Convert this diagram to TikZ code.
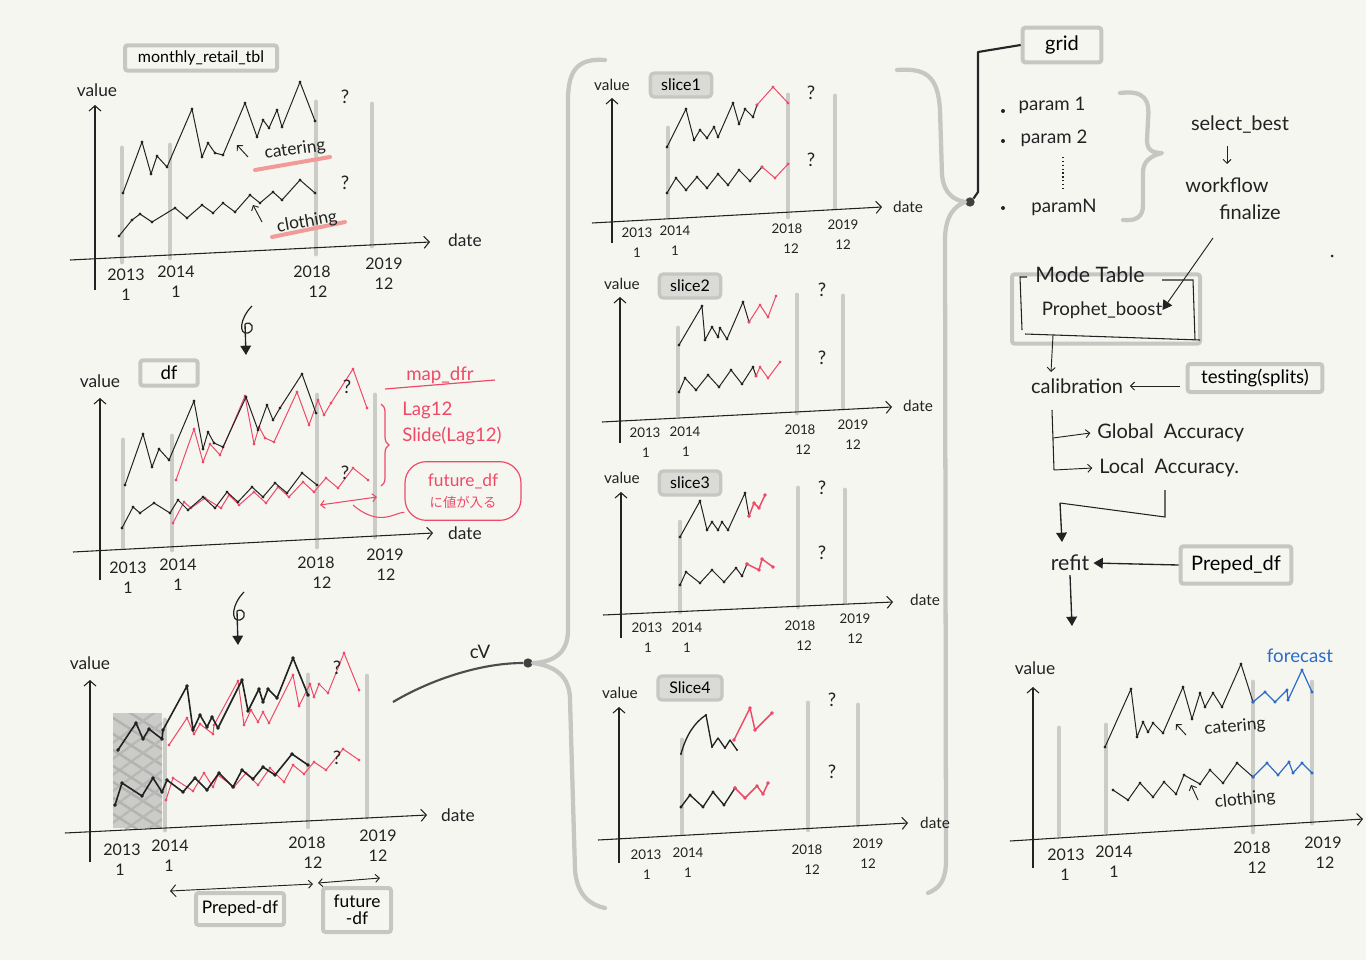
\documentclass[tikz,border=0pt]{standalone}
\usepackage{fontspec}
\setmainfont{Lato}
\newfontfamily\jpfont{Noto Sans CJK JP}
\usetikzlibrary{arrows.meta,decorations.pathreplacing}
\definecolor{bgc}{HTML}{F6F6F1}
\definecolor{gbarc}{HTML}{CBCBC7}
\definecolor{boxc}{HTML}{C6C6C2}
\definecolor{boxfill}{HTML}{DADAD6}
\definecolor{redc}{HTML}{EE4A68}
\definecolor{salmon}{HTML}{F29A98}
\definecolor{bluec}{HTML}{2C6CC9}
\definecolor{inkc}{HTML}{222222}
\tikzset{
  axis/.style={line width=0.8pt, inkc, -{Straight Barb[length=4pt,width=9pt]}},
  gbar/.style={line width=3.6pt, gbarc, line cap=round},
  ser/.style={line width=0.75pt, inkc, line join=round},
  serb/.style={line width=1.2pt, inkc, line join=round},
  rser/.style={line width=0.75pt, redc, line join=round},
  bser/.style={line width=0.9pt, bluec, line join=round},
  lab/.style={font=\fontsize{13}{15}\selectfont, inner sep=0pt, inkc},
  slab/.style={font=\fontsize{11.5}{13}\selectfont, inner sep=0pt, inkc},
  yrl/.style={font=\fontsize{12}{14}\selectfont, inner sep=0pt, inkc},
  yrs/.style={font=\fontsize{10}{12}\selectfont, inner sep=0pt, inkc},
  rlab/.style={font=\fontsize{15}{17}\selectfont, inner sep=0pt, inkc},
  redlab/.style={font=\fontsize{14}{16}\selectfont, inner sep=0pt, redc},
  graybox/.style={draw=boxc, line width=3pt, rounded corners=2pt, inner sep=0pt},
  slicebox/.style={draw=boxc, fill=boxfill, line width=2.5pt, rounded corners=3pt, inner sep=0pt, minimum height=18pt},
  thinarrow/.style={line width=0.7pt, inkc, -{Straight Barb[length=3pt,width=6pt]}},
  fillarrow/.style={line width=1pt, inkc, -{Triangle[length=7pt,width=8pt]}},
  bracec/.style={line width=3.2pt, boxc, line cap=round, line join=round},
  qm/.style={font=\fontsize{14}{16}\selectfont, inner sep=0pt, inkc},
  mk/.style={mark=*, mark size=0.75pt},
}
\newcommand\gbar[3]{\draw[gbar] (#1,#2) -- (#1,#3);}
\newcommand\yrpair[7]{% name, style, x, y, year, subx, sub
  \node[#2] (#1a) at (#3,#4) {#5};
  \node[#2] (#1b) at (#6,#4+20) {#7};}
\begin{document}
\begin{tikzpicture}[x=0.75pt,y=-0.75pt]
\fill[bgc] (0,0) rectangle (1366,960);
\useasboundingbox (0,0) rectangle (1366,960);

%%%%%%%%%%%%%%%% Chart 1 %%%%%%%%%%%%%%%%
\gbar{122}{148}{262}\gbar{170}{145}{258}\gbar{316}{102}{254}\gbar{372}{104}{246}
\coordinate (c1yb) at (95,290); \coordinate (c1yt) at (95,105);
\draw[axis] (c1yb) -- (c1yt);
\coordinate (c1xl) at (70,260); \coordinate (c1xr) at (430,242);
\draw[axis] (c1xl) -- (c1xr);
\node[lab] (c1val) at (97,90) {value};
\node[lab] (c1date) at (465,240) {date};
\node[graybox, minimum width=114pt, minimum height=19pt, font=\fontsize{12}{14}\selectfont] (mrt) at (201,58) {monthly\_retail\_tbl};
\yrpair{c1y13}{yrl}{126}{275}{2013}{126}{1}
\yrpair{c1y14}{yrl}{176}{272}{2014}{176}{1}
\yrpair{c1y18}{yrl}{312}{272}{2018}{318}{12}
\yrpair{c1y19}{yrl}{384}{264}{2019}{384}{12}
\node[qm] (c1q1) at (345,97) {?};
\node[qm] (c1q2) at (345,183) {?};
\draw[ser] plot[mk] coordinates {(123,193)(142,142)(151,174)(157,156)(167,167)(192,109)(202,157)(208,143)(215,153)(223,155)(245,103)(257,137)(263,120)(269,128)(277,110)(282,127)(300,82)(315,121)};
\draw[ser] plot[mk] coordinates {(119,236)(132,220)(140,214)(152,222)(175,208)(187,218)(202,205)(213,213)(223,203)(235,212)(250,195)(260,203)(273,192)(282,200)(300,180)(315,193)};
\draw[salmon, line width=3pt, line cap=round] (255,170) -- (330,157);
\draw[salmon, line width=3pt, line cap=round] (272,237) -- (345,222);
\node[lab, rotate=8] (c1cat) at (295,150) {catering};
\node[lab, rotate=10] (c1clo) at (307,222) {clothing};
\coordinate (c1a1) at (248,157); \coordinate (c1a1t) at (237,145);
\draw[thinarrow] (c1a1) -- (c1a1t);
\coordinate (c1a2) at (262,222); \coordinate (c1a2t) at (253,205);
\draw[thinarrow] (c1a2) -- (c1a2t);

% arrow 1 -> 2
\coordinate (d1s) at (252,306); \coordinate (d1e) at (246,355);
\draw[line width=0.9pt, inkc] (d1s) .. controls (240,318) and (238,335) .. (248,333) .. controls (256,330) and (252,320) .. (245,324);
\draw[fillarrow] (245,324) -- (d1e);

%%%%%%%%%%%%%%%% Chart 2 %%%%%%%%%%%%%%%%
\gbar{123}{440}{547}\gbar{172}{436}{550}\gbar{317}{395}{547}\gbar{375}{395}{537}
\coordinate (c2yb) at (100,580); \coordinate (c2yt) at (100,398);
\draw[axis] (c2yb) -- (c2yt);
\coordinate (c2xl) at (73,552); \coordinate (c2xr) at (433,533);
\draw[axis] (c2xl) -- (c2xr);
\node[lab] (c2val) at (100,381) {value};
\node[lab] (c2date) at (465,533) {date};
\node[graybox, minimum width=43pt, minimum height=19pt, font=\fontsize{14}{16}\selectfont] (dfb) at (169,373) {df};
\yrpair{c2y13}{yrl}{128}{568}{2013}{128}{1}
\yrpair{c2y14}{yrl}{178}{565}{2014}{178}{1}
\yrpair{c2y18}{yrl}{316}{563}{2018}{322}{12}
\yrpair{c2y19}{yrl}{385}{555}{2019}{386}{12}
\begin{scope}[xshift=38.25pt, yshift=3.75pt]
\draw[rser] plot[mk] coordinates {(125,485)(143,434)(152,467)(159,449)(169,460)(194,401)(203,449)(208,432)(214,443)(223,447)(246,397)(258,430)(267,405)(273,420)(280,408)(302,374)(316,413)};
\draw[rser] plot[mk] coordinates {(122,528)(133,507)(140,513)(154,503)(170,513)(178,500)(188,510)(203,497)(215,508)(227,492)(238,502)(252,487)(263,497)(275,483)(287,493)(302,473)(317,485)};
\end{scope}
\draw[ser] plot[mk] coordinates {(125,485)(143,434)(152,467)(159,449)(169,460)(194,401)(203,449)(208,432)(214,443)(223,447)(246,397)(258,430)(267,405)(273,420)(280,408)(302,374)(316,413)};
\draw[ser] plot[mk] coordinates {(122,528)(133,507)(140,513)(154,503)(170,513)(178,500)(188,510)(203,497)(215,508)(227,492)(238,502)(252,487)(263,497)(275,483)(287,493)(302,473)(317,485)};
\node[qm] (c2q1) at (347,387) {?};
\node[qm] (c2q2) at (345,473) {?};
\node[redlab] (mapdfr) at (440,375) {map\_dfr};
\draw[redc, line width=0.9pt] (385,389) -- (495,380);
\coordinate (brt) at (381,404); \coordinate (brb) at (381,486);
\draw[redc, line width=0.9pt, decorate, decoration={brace, amplitude=6pt}] (brt) -- (brb);
\node[redlab, anchor=west] (lag) at (402,410) {Lag12};
\node[redlab, anchor=west] (slide) at (402,436) {Slide(Lag12)};
\node[draw=redc, line width=0.9pt, rounded corners=16pt, minimum width=87pt, minimum height=44pt, inner sep=0pt, align=center, text=redc, font=\fontsize{13}{15}\selectfont] (fut) at (463,491) {future\_df\\[1pt]{\jpfont\fontsize{10}{12}\selectfont に値が入る}};
\coordinate (fute) at (353,505);
\draw[redc, line width=0.8pt] (fut.200) .. controls (395,512) and (380,528) .. (fute);
\coordinate (rdl) at (320,505); \coordinate (rdr) at (377,497);
\draw[redc, line width=0.8pt, {Straight Barb[length=3pt,width=6pt]}-{Straight Barb[length=3pt,width=6pt]}] (rdl) -- (rdr);

% arrow 2 -> 3
\coordinate (d2s) at (244,592); \coordinate (d2e) at (238,645);
\draw[line width=0.9pt, inkc] (d2s) .. controls (232,604) and (230,622) .. (240,620) .. controls (248,617) and (244,607) .. (237,611);
\draw[fillarrow] (237,611) -- (d2e);

%%%%%%%%%%%%%%%% Chart 3 %%%%%%%%%%%%%%%%
\gbar{165}{720}{830}\gbar{308}{675}{827}\gbar{367}{676}{817}
\fill[gbarc] (113,713) rectangle (162,828);
\begin{scope}
\clip (113,713) rectangle (162,828);
\foreach \k in {0,16,...,180} {
  \draw[black!30, line width=1.8pt, line cap=round] (110,700+\k) -- (165,735+\k);
  \draw[black!28, line width=1.8pt, line cap=round] (110,745+\k) -- (165,705+\k);
}
\end{scope}
\coordinate (c3yb) at (90,862); \coordinate (c3yt) at (90,680);
\draw[axis] (c3yb) -- (c3yt);
\coordinate (c3xl) at (65,833); \coordinate (c3xr) at (427,815);
\draw[axis] (c3xl) -- (c3xr);
\node[lab] (c3val) at (90,663) {value};
\node[lab] (c3date) at (458,815) {date};
\yrpair{c3y13}{yrl}{122}{850}{2013}{120}{1}
\yrpair{c3y14}{yrl}{170}{846}{2014}{169}{1}
\yrpair{c3y18}{yrl}{307}{843}{2018}{313}{12}
\yrpair{c3y19}{yrl}{378}{836}{2019}{378}{12}
\begin{scope}[xshift=38.25pt, yshift=3.75pt]
\draw[rser] plot[mk] coordinates {(118,750)(136,723)(143,739)(149,729)(162,739)(163,730)(187,686)(193,730)(200,715)(207,727)(212,717)(218,728)(242,680)(248,711)(259,689)(263,702)(268,689)(277,698)(293,658)(308,695)};
\draw[rser] plot[mk] coordinates {(115,805)(122,783)(142,796)(153,778)(162,792)(167,780)(183,792)(195,778)(207,790)(219,773)(233,787)(242,770)(253,779)(263,767)(275,775)(292,754)(308,765)};
\end{scope}
\draw[serb] plot[mk] coordinates {(118,750)(136,723)(143,739)(149,729)(162,739)(163,730)(187,686)(193,730)(200,715)(207,727)(212,717)(218,728)(242,680)(248,711)(259,689)(263,702)(268,689)(277,698)(293,658)(308,695)};
\draw[serb] plot[mk] coordinates {(115,805)(122,783)(142,796)(153,778)(162,792)(167,780)(183,792)(195,778)(207,790)(219,773)(233,787)(242,770)(253,779)(263,767)(275,775)(292,754)(308,765)};
\node[qm] (c3q1) at (337,668) {?};
\node[qm] (c3q2) at (337,758) {?};
\node[graybox, minimum width=66pt, minimum height=24pt, font=\fontsize{13}{15}\selectfont] (ppd) at (240,909) {Preped-df};
\node[graybox, minimum width=51pt, minimum height=33pt, align=center, font=\fontsize{13}{13}\selectfont] (ftd) at (357,910) {future\\-df};
\coordinate (p1l) at (170,891); \coordinate (p1r) at (313,884);
\draw[line width=0.7pt, inkc, {Straight Barb[length=4pt,width=9pt]}-{Straight Barb[length=3pt,width=6pt]}] (p1l) -- (p1r);
\coordinate (p2l) at (318,883); \coordinate (p2r) at (380,878);
\draw[line width=0.7pt, inkc, {Straight Barb[length=3pt,width=6pt]}-{Straight Barb[length=3pt,width=6pt]}] (p2l) -- (p2r);

% CV connector
\node[lab, font=\fontsize{14}{16}\selectfont] (cvl) at (480,652) {cV};
\coordinate (cvs) at (393,702);
\node[circle, fill=black!75, inner sep=0pt, minimum size=7pt] (cvdot) at (528,663) {};
\draw[line width=1.6pt, black!70] (cvs) .. controls (430,680) and (480,663) .. (cvdot.west);

% middle braces
\draw[bracec] (605,60) .. controls (578,58) and (568,70) .. (568,100) -- (568,630) .. controls (568,652) and (555,662) .. (cvdot.east) .. controls (555,666) and (570,676) .. (570,700) -- (575,870) .. controls (577,895) and (590,905) .. (605,908);
\node[circle, fill=black!75, inner sep=0pt, minimum size=7pt] (gdot) at (970,202) {};
\draw[bracec] (897,70) .. controls (925,68) and (938,75) .. (940,110) -- (942,175) .. controls (944,195) and (955,200) .. (gdot.west) .. controls (955,206) and (945,215) .. (945,240) -- (946,860) .. controls (946,880) and (940,888) .. (928,893);

%%%%%%%%%%%%%%%% Slice 1 %%%%%%%%%%%%%%%%
\gbar{668}{128}{217}\gbar{788}{95}{217}\gbar{835}{96}{208}
\coordinate (s1yb) at (612,243); \coordinate (s1yt) at (612,98);
\draw[axis] (s1yb) -- (s1yt);
\coordinate (s1xl) at (592,223); \coordinate (s1xr) at (882,207);
\draw[axis] (s1xl) -- (s1xr);
\node[slab] (s1val) at (612,85) {value};
\node[slab] (s1date) at (908,207) {date};
\node[slicebox, minimum width=46pt] (s1b) at (681,85) {\fontsize{12}{14}\selectfont slice1};
\yrpair{s1y13}{yrs}{637}{233}{2013}{637}{1}
\yrpair{s1y14}{yrs}{675}{231}{2014}{675}{1}
\yrpair{s1y18}{yrs}{787}{229}{2018}{791}{12}
\yrpair{s1y19}{yrs}{843}{225}{2019}{843}{12}
\draw[ser] plot[mk] coordinates {(667,147)(686,109)(694,140)(700,130)(707,138)(714,127)(718,137)(733,103)(739,124)(745,109)(753,117)(757,105)};
\draw[rser] plot[mk] coordinates {(757,105)(773,87)(788,103)};
\draw[ser] plot[mk] coordinates {(667,193)(676,178)(686,190)(697,177)(707,188)(718,174)(728,185)(739,170)(750,181)(762,167)};
\draw[rser] plot[mk] coordinates {(762,167)(775,178)(788,164)};
\node[qm] (s1q1) at (811,93) {?};
\node[qm] (s1q2) at (811,160) {?};

%%%%%%%%%%%%%%%% Slice 2 %%%%%%%%%%%%%%%%
\gbar{678}{328}{415}\gbar{797}{295}{413}\gbar{843}{296}{408}
\coordinate (s2yb) at (620,443); \coordinate (s2yt) at (620,297);
\draw[axis] (s2yb) -- (s2yt);
\coordinate (s2xl) at (602,422); \coordinate (s2xr) at (892,407);
\draw[axis] (s2xl) -- (s2xr);
\node[slab] (s2val) at (622,284) {value};
\node[slab] (s2date) at (918,406) {date};
\node[slicebox, minimum width=46pt] (s2b) at (690,286) {\fontsize{12}{14}\selectfont slice2};
\yrpair{s2y13}{yrs}{645}{433}{2013}{646}{1}
\yrpair{s2y14}{yrs}{685}{432}{2014}{686}{1}
\yrpair{s2y18}{yrs}{800}{430}{2018}{803}{12}
\yrpair{s2y19}{yrs}{853}{425}{2019}{853}{12}
\draw[ser] plot[mk] coordinates {(679,345)(702,306)(705,340)(712,327)(718,337)(720,328)(727,339)(743,302)(749,322)};
\draw[rser] plot[mk] coordinates {(749,322)(760,305)(768,317)(776,296)};
\draw[ser] plot[mk] coordinates {(679,392)(685,378)(696,390)(708,375)(719,387)(731,370)(742,384)(753,367)(756,376)};
\draw[rser] plot[mk] coordinates {(756,376)(760,367)(768,378)(780,362)};
\node[qm] (s2q1) at (822,290) {?};
\node[qm] (s2q2) at (822,358) {?};

%%%%%%%%%%%%%%%% Slice 3 %%%%%%%%%%%%%%%%
\gbar{680}{522}{612}\gbar{798}{488}{607}\gbar{845}{490}{602}
\coordinate (s3yb) at (621,638); \coordinate (s3yt) at (621,492);
\draw[axis] (s3yb) -- (s3yt);
\coordinate (s3xl) at (603,615); \coordinate (s3xr) at (893,602);
\draw[axis] (s3xl) -- (s3xr);
\node[slab] (s3val) at (622,478) {value};
\node[slab] (s3date) at (925,600) {date};
\node[slicebox, minimum width=46pt] (s3b) at (690,483) {\fontsize{12}{14}\selectfont slice3};
\yrpair{s3y13}{yrs}{647}{628}{2013}{648}{1}
\yrpair{s3y14}{yrs}{687}{628}{2014}{687}{1}
\yrpair{s3y18}{yrs}{800}{626}{2018}{804}{12}
\yrpair{s3y19}{yrs}{855}{619}{2019}{855}{12}
\draw[ser] plot[mk] coordinates {(680,537)(700,501)(707,530)(712,522)(718,530)(722,522)(728,530)(745,493)(749,516)};
\draw[rser, line width=1.1pt] plot[mk] coordinates {(749,516)(754,503)(759,508)(765,495)};
\draw[ser] plot[mk] coordinates {(680,585)(686,572)(700,583)(712,570)(724,582)(736,568)(742,576)(747,564)};
\draw[rser, line width=1.1pt] plot[mk] coordinates {(747,564)(759,570)(762,559)(773,567)};
\node[qm] (s3q1) at (822,488) {?};
\node[qm] (s3q2) at (822,553) {?};

%%%%%%%%%%%%%%%% Slice 4 %%%%%%%%%%%%%%%%
\gbar{682}{740}{833}\gbar{808}{703}{830}\gbar{858}{705}{825}
\coordinate (s4yb) at (619,863); \coordinate (s4yt) at (619,707);
\draw[axis] (s4yb) -- (s4yt);
\coordinate (s4xl) at (598,840); \coordinate (s4xr) at (908,823);
\draw[axis] (s4xl) -- (s4xr);
\node[slab] (s4val) at (620,693) {value};
\node[slab] (s4date) at (935,823) {date};
\node[slicebox, minimum width=48pt] (s4b) at (690,688) {\fontsize{12}{14}\selectfont Slice4};
\yrpair{s4y13}{yrs}{646}{855}{2013}{647}{1}
\yrpair{s4y14}{yrs}{688}{853}{2014}{688}{1}
\yrpair{s4y18}{yrs}{807}{850}{2018}{812}{12}
\yrpair{s4y19}{yrs}{868}{844}{2019}{868}{12}
\draw[ser, line width=1pt] (681,754) .. controls (686,735) and (695,722) .. (706,715) -- (712,747) -- (718,738) -- (725,748) -- (730,740) -- (737,750);
\fill[inkc] (681,754) circle (1.2) (706,715) circle (1.2) (712,747) circle (1.2) (725,748) circle (1.2) (737,750) circle (1.2);
\draw[rser, line width=1.1pt] plot[mk] coordinates {(734,740)(750,708)(755,730)(772,713)};
\draw[ser, line width=1pt] plot[mk] coordinates {(681,807)(690,795)(703,807)(713,792)(724,805)(735,788)};
\draw[rser, line width=1.1pt] plot[mk] coordinates {(735,788)(745,798)(757,786)(763,794)(768,783)};
\node[qm] (s4q1) at (832,700) {?};
\node[qm] (s4q2) at (832,772) {?};

%%%%%%%%%%%%%%%% Right column %%%%%%%%%%%%%%%%
\node[graybox, minimum width=59pt, minimum height=26pt, font=\fontsize{15}{17}\selectfont] (grid) at (1062,45) {grid};
\draw[line width=1.6pt, black!85, line join=round] (gdot.north east) -- (978,192) -- (978,52) -- (grid.west);
\fill[inkc] (1003,111) circle (2) (1003,141) circle (2) (1003,208) circle (2);
\node[rlab, font=\fontsize{14}{16}\selectfont] (p1) at (1052,105) {param 1};
\node[rlab, font=\fontsize{14}{16}\selectfont] (p2) at (1054,138) {param 2};
\coordinate (pdt) at (1063,157); \coordinate (pdb) at (1063,190);
\draw[inkc, line width=0.9pt, dotted] (pdt) -- (pdb);
\node[rlab, font=\fontsize{14}{16}\selectfont] (pn) at (1064,207) {paramN};
\draw[bracec] (1120,93) .. controls (1145,90) and (1150,100) .. (1148,120) -- (1147,140) .. controls (1147,150) and (1152,153) .. (1162,153) .. controls (1150,156) and (1143,162) .. (1143,172) -- (1143,205) .. controls (1143,218) and (1135,221) .. (1123,220);
\node[rlab] (selb) at (1240,125) {select\_best};
\coordinate (sba) at (1227,146); \coordinate (sbb) at (1227,164);
\draw[thinarrow] (sba) -- (sbb);
\node[rlab] (wf) at (1227,185) {workflow};
\node[rlab] (fin) at (1250,212) {finalize};
\fill[inkc] (1332,256) circle (1.5);
\node[graybox, minimum width=141pt, minimum height=52pt] (mt) at (1106,309) {};
\draw[inkc, line width=0.8pt] (1022,330) -- (1020,277) -- (1027,277);
\draw[inkc, line width=0.8pt] (1162,280) -- (1193,280) -- (1195,340);
\draw[inkc, line width=0.8pt] (1025,334) -- (1200,340);
\node[rlab, font=\fontsize{16}{18}\selectfont] (mtl) at (1090,275) {Mode Table};
\node[rlab, font=\fontsize{14}{16}\selectfont] (pb) at (1102,310) {Prophet\_boost};
\coordinate (fina) at (1213,238);
\draw[fillarrow, line width=0.7pt] (fina) -- (pb.east);
\coordinate (mta) at (1053,335); \coordinate (mtb) at (1051,372);
\node[rlab] (cal) at (1077,386) {calibration};
\draw[thinarrow] (mta) -- (mtb);
\node[graybox, minimum width=101pt, minimum height=21pt, font=\fontsize{14}{16}\selectfont] (tst) at (1255,378) {testing(splits)};
\draw[thinarrow] ([xshift=-4pt]tst.west |- cal.east) -- ([xshift=5pt]cal.east);
\node[rlab, anchor=west] (glob) at (1097,433) {Global\ \ Accuracy};
\node[rlab, anchor=west] (loc) at (1099,468) {Local\ \ Accuracy.};
\coordinate (tr0) at (1052,410);
\draw[inkc, line width=0.8pt] (tr0) -- (1054,470);
\draw[thinarrow] (1053,438) -- ([xshift=-5pt]glob.west);
\draw[thinarrow] (1054,470) -- ([xshift=-5pt]loc.west);
\coordinate (rf0) at (1165,490); \coordinate (rfar) at (1062,542);
\node[rlab, font=\fontsize{16}{18}\selectfont] (refit) at (1070,563) {refit};
\draw[inkc, line width=0.8pt] (rf0) -- (1165,517) -- (1060,503);
\draw[fillarrow] (1060,503) -- (rfar);
\node[graybox, minimum width=83pt, minimum height=28pt, font=\fontsize{15}{17}\selectfont] (ppd2) at (1236,565) {Preped\_df};
\draw[fillarrow] (ppd2.west) -- ([xshift=3pt]refit.east);
\coordinate (rfd) at (1072,626);
\draw[fillarrow] ([yshift=-3pt]refit.south) -- (rfd);

%%%%%%%%%%%%%%%% Final chart %%%%%%%%%%%%%%%%
\gbar{1059}{728}{835}\gbar{1106}{725}{832}\gbar{1253}{682}{832}\gbar{1312}{682}{823}
\coordinate (fyb) at (1033,868); \coordinate (fyt) at (1033,687);
\draw[axis] (fyb) -- (fyt);
\coordinate (fxl) at (1010,841); \coordinate (fxr) at (1363,819);
\draw[axis] (fxl) -- (fxr);
\node[lab] (fval) at (1035,668) {value};
\yrpair{fy13}{yrl}{1066}{855}{2013}{1065}{1}
\yrpair{fy14}{yrl}{1114}{852}{2014}{1114}{1}
\yrpair{fy18}{yrl}{1252}{848}{2018}{1257}{12}
\yrpair{fy19}{yrl}{1323}{843}{2019}{1325}{12}
\draw[ser] plot[mk] coordinates {(1105,747)(1131,689)(1137,737)(1143,722)(1148,732)(1153,723)(1163,733)(1183,687)(1192,719)(1200,693)(1205,707)(1213,693)(1222,707)(1241,664)(1253,702)};
\draw[bser] plot[mk] coordinates {(1253,702)(1265,692)(1275,702)(1287,690)(1288,700)(1302,670)(1312,692)};
\draw[ser] plot[mk] coordinates {(1113,790)(1128,800)(1140,783)(1153,797)(1164,782)(1176,794)(1184,775)(1200,784)(1210,770)(1223,783)(1237,763)(1253,777)};
\draw[bser] plot[mk] coordinates {(1253,777)(1267,763)(1278,775)(1289,762)(1293,773)(1302,763)(1312,773)};
\node[font=\fontsize{14}{16}\selectfont, text=bluec, inner sep=0pt] (fc) at (1300,656) {forecast};
\node[lab, rotate=5] (fcat) at (1235,727) {catering};
\coordinate (fa1) at (1186,735); \coordinate (fa1t) at (1176,724);
\draw[thinarrow] (fa1) -- (fa1t);
\node[lab, rotate=6] (fclo) at (1245,800) {clothing};
\coordinate (fa2) at (1198,800); \coordinate (fa2t) at (1191,785);
\draw[thinarrow] (fa2) -- (fa2t);
\end{tikzpicture}
\end{document}
